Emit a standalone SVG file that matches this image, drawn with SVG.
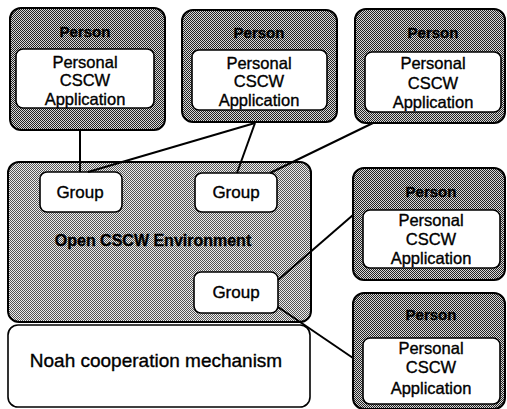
<svg xmlns="http://www.w3.org/2000/svg" width="507" height="409" viewBox="0 0 507 409">
  <defs>
    <pattern id="dark" width="2" height="2" patternUnits="userSpaceOnUse">
      <rect width="2" height="2" fill="#d8d8d8"/>
      <rect width="1" height="1" fill="#222"/>
      <rect x="1" y="1" width="1" height="1" fill="#222"/>
    </pattern>
    <pattern id="light" width="2" height="2" patternUnits="userSpaceOnUse">
      <rect width="2" height="2" fill="#eeeeee"/>
      <rect width="1" height="1" fill="#555"/>
      <rect x="1" y="1" width="1" height="1" fill="#555"/>
    </pattern>
  </defs>
  <style>
    .outer { fill: url(#dark); stroke: #000; stroke-width: 2; }
    .env { fill: url(#light); stroke: #000; stroke-width: 2; }
    .inner { fill: #fff; stroke: #000; stroke-width: 1.6; }
    text { font-family: "Liberation Sans", Arial, sans-serif; text-anchor: middle; fill: #000; stroke: #000; stroke-width: 0.35; }
    .plabel { font-weight: bold; font-size: 15px; }
    .app { font-size: 16.5px; }
    .grp { font-size: 17px; }
    .envlabel { font-weight: bold; font-size: 16px; }
    .noah { font-size: 19px; }
    .conn { stroke: #000; stroke-width: 2; fill: none; }
  </style>

  <g id="environment">
    <rect class="env" x="8" y="162" width="303" height="160" rx="11"/>
    <text class="envlabel" x="153" y="246">Open CSCW Environment</text>
  </g>

  <g id="noah">
    <rect class="inner" x="8" y="325" width="302" height="82" rx="10"/>
    <text class="noah" x="156" y="367">Noah cooperation mechanism</text>
  </g>

  <g id="group1">
    <rect class="inner" x="40" y="172" width="82" height="40" rx="7"/>
    <text class="grp" x="80" y="198">Group</text>
  </g>
  <g id="group2">
    <rect class="inner" x="195" y="173" width="82" height="39" rx="7"/>
    <text class="grp" x="236" y="198">Group</text>
  </g>
  <g id="group3">
    <rect class="inner" x="194" y="272" width="84" height="41" rx="7"/>
    <text class="grp" x="236" y="298">Group</text>
  </g>

  <g id="person1">
    <rect class="outer" x="10" y="8" width="155" height="122" rx="11"/>
    <text class="plabel" x="85" y="37">Person</text>
    <rect class="inner" x="16" y="49" width="138" height="59" rx="7"/>
    <text class="app" x="85" y="68">Personal</text>
    <text class="app" x="85" y="86">CSCW</text>
    <text class="app" x="85" y="105">Application</text>
  </g>

  <g id="person2">
    <rect class="outer" x="182" y="10" width="155" height="112" rx="11"/>
    <text class="plabel" x="259" y="38">Person</text>
    <rect class="inner" x="192" y="50" width="135" height="60" rx="7"/>
    <text class="app" x="259" y="69">Personal</text>
    <text class="app" x="259" y="87">CSCW</text>
    <text class="app" x="259" y="106">Application</text>
  </g>

  <g id="person3">
    <rect class="outer" x="355" y="9" width="150" height="114" rx="11"/>
    <text class="plabel" x="433" y="38">Person</text>
    <rect class="inner" x="365" y="52" width="136" height="60" rx="7"/>
    <text class="app" x="433" y="69">Personal</text>
    <text class="app" x="433" y="89">CSCW</text>
    <text class="app" x="433" y="108">Application</text>
  </g>

  <g id="person4">
    <rect class="outer" x="353" y="168" width="152" height="112" rx="11"/>
    <text class="plabel" x="431" y="197">Person</text>
    <rect class="inner" x="363" y="210" width="137" height="58" rx="7"/>
    <text class="app" x="431" y="226">Personal</text>
    <text class="app" x="431" y="245">CSCW</text>
    <text class="app" x="431" y="264">Application</text>
  </g>

  <g id="person5">
    <rect class="outer" x="353" y="293" width="152" height="116" rx="11"/>
    <text class="plabel" x="431" y="320">Person</text>
    <rect class="inner" x="363" y="338" width="137" height="66" rx="7"/>
    <text class="app" x="431" y="354">Personal</text>
    <text class="app" x="431" y="373">CSCW</text>
    <text class="app" x="431" y="394">Application</text>
  </g>

  <g id="connectors">
    <line class="conn" x1="80" y1="130" x2="80" y2="172"/>
    <line class="conn" x1="255" y1="123" x2="88" y2="172"/>
    <line class="conn" x1="255" y1="123" x2="237" y2="173"/>
    <line class="conn" x1="373" y1="123" x2="270" y2="173"/>
    <line class="conn" x1="278" y1="280" x2="353" y2="215"/>
    <line class="conn" x1="278" y1="307" x2="353" y2="358"/>
  </g>
</svg>
